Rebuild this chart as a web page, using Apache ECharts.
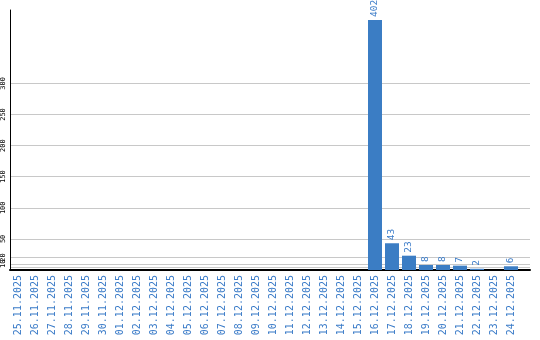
<!DOCTYPE html>
<html><head><meta charset="utf-8">
<script src="https://cdn.jsdelivr.net/npm/echarts@6/dist/echarts.min.js"></script>
<style>html,body{margin:0;padding:0;background:#fff}#c{width:540px;height:340px}</style>
</head><body><div id="c"></div>
<script>
const categories = ["25.11.2025","26.11.2025","27.11.2025","28.11.2025","29.11.2025","30.11.2025",
"01.12.2025","02.12.2025","03.12.2025","04.12.2025","05.12.2025","06.12.2025","07.12.2025","08.12.2025",
"09.12.2025","10.12.2025","11.12.2025","12.12.2025","13.12.2025","14.12.2025","15.12.2025","16.12.2025",
"17.12.2025","18.12.2025","19.12.2025","20.12.2025","21.12.2025","22.12.2025","23.12.2025","24.12.2025"];
const values = [0,0,0,0,0,0,0,0,0,0,0,0,0,0,0,0,0,0,0,0,0,402,43,23,8,8,7,2,0,6];
const yTicks = [5,10,20,50,100,150,200,250,300];
const yMax = 418;

const chart = echarts.init(document.getElementById('c'));
const blue = '#3b7dc4';
chart.setOption({
  animation: false,
  grid: [
    {left: 10, right: 10, top: 10, bottom: 70},
    {left: 9.5, right: 20.5, top: 10, bottom: 70}
  ],
  xAxis: [
    {gridIndex: 0, type: 'value', min: 0, max: 1, axisLine: {show: true, lineStyle: {color: '#000', width: 2}},
     axisTick: {show: false}, axisLabel: {show: false}, splitLine: {show: false}},
    {gridIndex: 1, type: 'category', data: categories, axisLine: {show: false}, axisTick: {show: false},
     axisLabel: {rotate: 90, interval: 0, margin: 5, color: '#3a7bc8', fontFamily: 'DejaVu Sans Mono', fontSize: 10}}
  ],
  yAxis: [
    {gridIndex: 0, type: 'value', min: 0, max: yMax,
     axisLine: {show: true, lineStyle: {color: '#000', width: 1}},
     axisTick: {show: false, customValues: yTicks},
     axisLabel: {customValues: yTicks, rotate: 90, margin: 3, color: '#000', fontFamily: 'DejaVu Sans Mono', fontSize: 7},
     splitLine: {show: true, lineStyle: {color: '#c8c8c8', width: 1}}},
    {gridIndex: 1, type: 'value', min: 0, max: yMax, show: false, splitLine: {show: false}}
  ],
  series: [{
    type: 'bar', xAxisIndex: 1, yAxisIndex: 1, data: values, barWidth: 14,
    itemStyle: {color: blue},
    label: {show: true, position: 'top', rotate: 90, align: 'left', verticalAlign: 'middle', distance: 3,
      color: '#3a7bc8', fontFamily: 'DejaVu Sans Mono', fontSize: 9.5,
      formatter: p => p.value ? String(p.value) : ''}
  }]
});
</script></body></html>
